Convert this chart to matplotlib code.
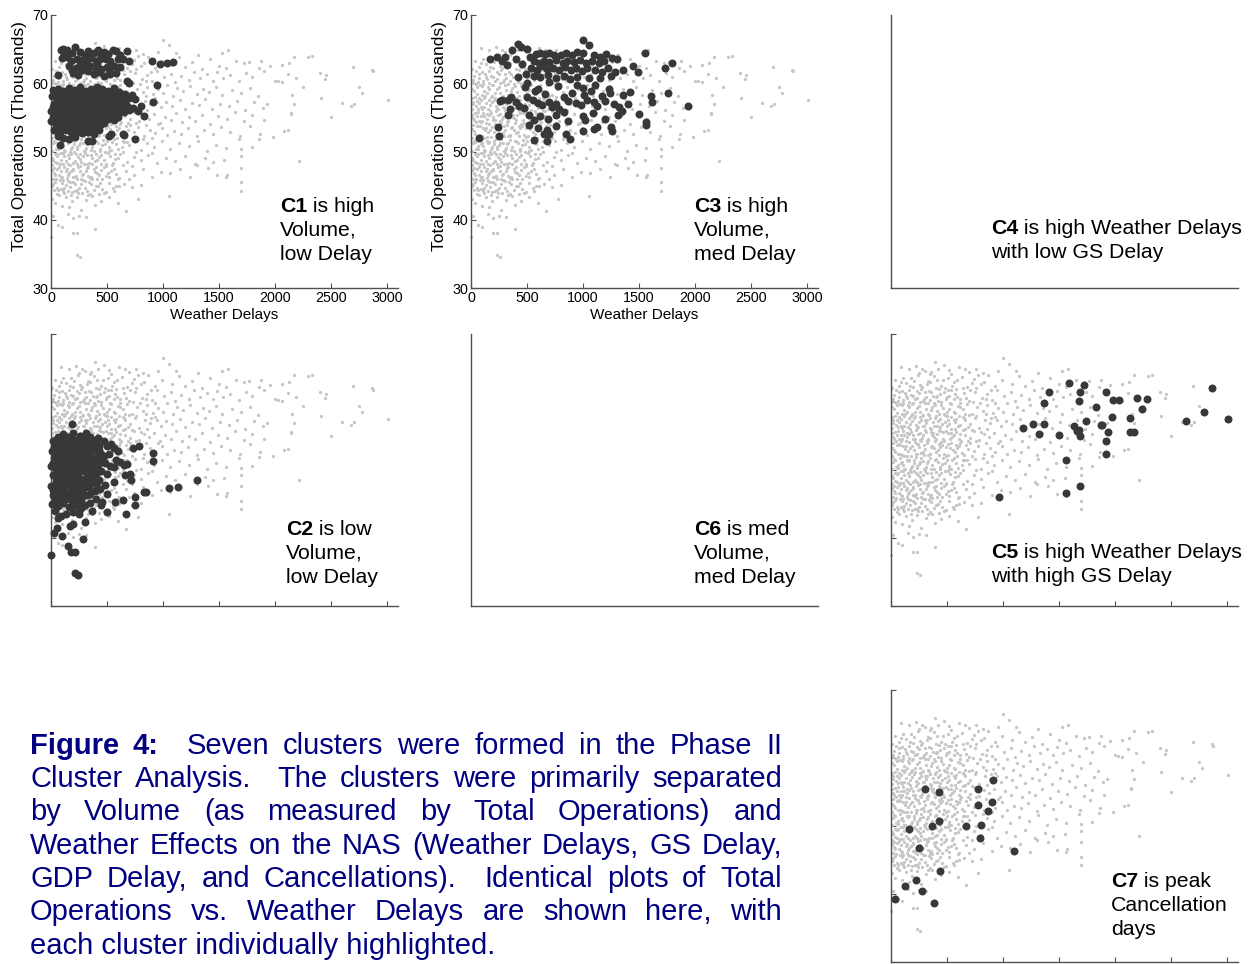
import re
import numpy as np
import matplotlib.pyplot as plt

plt.rcParams['font.family'] = ['Liberation Sans', 'DejaVu Sans']

# ---- data: (weather delays, total operations in thousands) ----
bg_top = [(90, 65.1), (160, 64.8), (220, 65.3), (300, 64.6), (390, 65.9), (420, 64.9), (470, 65.5),
          (520, 64.7), (610, 65.2), (700, 64.4), (760, 64.9), (820, 64.3), (960, 64.6), (1000, 66.4),
          (1050, 65.6), (1120, 64.5), (1310, 64.2), (1580, 64.9), (1530, 64.5), (250, 64.2), (350, 64.1),
          (70, 62.4), (110, 63.5), (200, 62.2), (240, 63.9), (280, 64.9), (320, 62.7), (360, 64.4),
          (410, 63.3), (480, 62.1), (540, 64.1), (590, 63.2), (660, 64.8), (720, 62.8), (780, 64.0)]
bg_62 = [(40, 63.2), (130, 62.8), (180, 63.6), (260, 62.5), (330, 63.1), (380, 63.8), (450, 62.4),
         (510, 63.5), (560, 62.9), (630, 63.7), (680, 62.2), (740, 63.4), (800, 62.6), (870, 63.9),
         (930, 62.3), (990, 63.3), (1080, 62.7), (1140, 63.8), (1200, 62.4), (1260, 63.1), (1350, 62.1),
         (1420, 63.5), (1500, 62.6), (1560, 62.2), (1650, 63.2), (1720, 62.9), (1770, 63.1), (1880, 63.3),
         (1960, 62.5), (2060, 62.7), (2130, 62.9), (2170, 63.9), (2300, 63.8), (2330, 64.0), (2700, 62.4),
         (2870, 62.0), (2880, 61.8), (1860, 62.2)]
bg_60 = [(20, 60.5), (70, 61.4), (110, 60.3), (160, 61.8), (200, 60.9), (250, 61.3), (290, 60.2),
         (340, 61.6), (400, 60.7), (440, 61.2), (490, 60.4), (540, 61.7), (590, 60.8), (650, 61.3),
         (700, 60.1), (750, 61.5), (810, 60.6), (860, 61.2), (900, 60.3), (950, 61.8), (1010, 60.9),
         (1070, 61.4), (1110, 60.2), (1160, 61.1), (1230, 60.5), (1280, 61.7), (1330, 60.8), (1390, 61.3),
         (1450, 60.4), (1480, 61.6), (1540, 60.7), (1600, 61.2), (1680, 60.3), (1740, 61.5), (1800, 60.9),
         (1900, 61.8), (2000, 60.4), (2030, 60.3), (2060, 60.2), (2120, 61.3), (2190, 60.7), (2400, 61.5),
         (2450, 60.6), (2460, 61.2), (2250, 59.4),
         (30, 61.0), (60, 60.2), (95, 61.6), (140, 60.6), (175, 61.1), (215, 60.4), (265, 61.9),
         (310, 60.8), (360, 61.4), (420, 60.2), (470, 61.5), (520, 60.9), (570, 61.2), (620, 60.5)]
bg_58 = [(10, 59.2), (50, 58.4), (80, 59.7), (120, 58.8), (150, 59.5), (190, 58.2), (230, 59.1),
         (260, 58.6), (300, 59.8), (330, 58.3), (370, 59.3), (410, 58.7), (450, 59.6), (480, 58.1),
         (520, 59.0), (560, 58.5), (600, 59.4), (640, 58.9), (680, 59.7), (720, 58.3), (770, 59.2),
         (820, 58.7), (860, 59.5), (910, 58.4), (960, 59.1), (1000, 58.6), (1040, 59.8), (1090, 58.2),
         (1130, 59.3), (1180, 58.8), (1240, 59.6), (1300, 58.4), (1360, 59.1), (1410, 58.7), (1470, 59.4),
         (1530, 58.3), (1620, 59.0), (1700, 58.5), (1780, 59.3), (1850, 58.1), (2150, 58.3), (2410, 57.9),
         (2780, 58.5), (2750, 59.4), (3010, 57.5),
         (25, 58.9), (55, 59.5), (95, 58.3), (110, 59.9), (140, 58.6), (165, 59.2), (200, 59.8),
         (215, 58.5), (250, 59.4), (285, 58.1), (315, 59.0), (355, 58.8), (390, 59.6), (430, 58.2),
         (465, 59.1), (500, 58.6), (540, 59.7), (575, 58.4), (620, 59.2), (660, 58.3)]
bg_56 = [(15, 57.3), (45, 56.6), (75, 57.8), (100, 56.2), (135, 57.1), (170, 56.8), (205, 57.6),
         (240, 56.3), (270, 57.4), (310, 56.9), (345, 57.7), (380, 56.4), (420, 57.2), (460, 56.7),
         (500, 57.9), (540, 56.1), (580, 57.5), (620, 56.6), (660, 57.3), (710, 56.8), (750, 57.6),
         (790, 56.2), (840, 57.4), (880, 56.9), (930, 57.8), (980, 56.5), (1030, 57.2), (1080, 56.7),
         (1150, 57.5), (1200, 56.3), (1260, 57.1), (1320, 56.8), (1380, 57.7), (1440, 56.2), (1510, 57.0),
         (1590, 56.6), (1660, 57.4), (1730, 56.1), (1810, 57.2), (1890, 56.4), (1930, 56.9), (2170, 56.9),
         (2140, 55.5), (2600, 57.1), (2680, 56.6), (2710, 57.0),
         (20, 56.9), (55, 57.4), (85, 56.5), (120, 57.9), (150, 56.3), (185, 57.2), (220, 56.6),
         (255, 57.8), (285, 56.5), (325, 57.3), (360, 56.1), (395, 57.6), (440, 56.3), (480, 57.0),
         (520, 56.8), (560, 57.3), (600, 56.4), (640, 57.8), (690, 56.3)]
bg_54 = [(5, 55.4), (30, 54.6), (60, 55.8), (90, 54.3), (115, 55.2), (145, 54.8), (180, 55.6),
         (210, 54.1), (245, 55.3), (275, 54.7), (305, 55.9), (335, 54.4), (365, 55.1), (400, 54.6),
         (435, 55.7), (470, 54.2), (505, 55.4), (545, 54.9), (585, 55.6), (625, 54.3), (665, 55.2),
         (705, 54.7), (745, 55.8), (785, 54.4), (830, 55.3), (875, 54.8), (920, 55.5), (970, 54.2),
         (1020, 55.1), (1070, 54.6), (1120, 55.7), (1170, 54.3), (1230, 55.0), (1290, 54.5), (1350, 55.4),
         (1420, 54.1), (1490, 55.2), (1570, 54.7), (1640, 55.8), (1720, 54.4), (1800, 55.3), (1900, 54.6),
         (2140, 55.6), (2500, 55.0), (2080, 53.0),
         (15, 54.9), (50, 55.2), (75, 54.5), (105, 55.7), (130, 54.2), (165, 55.3), (195, 54.6),
         (225, 55.9), (260, 54.4), (290, 55.1), (320, 54.3), (355, 55.6), (385, 54.9), (415, 55.3),
         (450, 54.1), (490, 55.8), (525, 54.5), (565, 55.1), (605, 54.6), (645, 55.9), (685, 54.2)]
bg_52 = [(10, 53.3), (40, 52.6), (70, 53.8), (95, 52.2), (125, 53.1), (155, 52.8), (190, 53.6),
         (220, 52.3), (250, 53.4), (285, 52.7), (320, 53.9), (350, 52.4), (385, 53.2), (420, 52.9),
         (455, 53.7), (490, 52.1), (530, 53.3), (570, 52.6), (610, 53.5), (650, 52.2), (690, 53.1),
         (740, 52.8), (780, 53.6), (830, 52.3), (880, 53.2), (930, 52.7), (990, 53.5), (1040, 52.4),
         (1100, 53.0), (1160, 52.6), (1220, 53.4), (1300, 52.2), (1370, 53.1), (1450, 52.5), (1520, 53.6),
         (1600, 52.9), (1690, 52.3), (1780, 53.8), (1870, 52.6), (2120, 53.1), (1980, 52.1),
         (25, 53.0), (55, 53.7), (80, 52.4), (110, 53.5), (140, 52.1), (170, 53.2), (205, 52.9),
         (235, 53.8), (270, 52.5), (300, 53.1), (335, 52.2), (370, 53.6), (405, 52.7), (440, 53.4),
         (475, 52.4), (510, 53.8), (550, 52.9), (590, 53.2), (630, 52.5), (670, 53.7)]
bg_50 = [(15, 51.2), (45, 50.4), (80, 51.7), (110, 50.8), (140, 51.5), (175, 50.3), (205, 51.1),
         (235, 50.6), (265, 51.8), (300, 50.2), (330, 51.3), (365, 50.7), (400, 51.6), (440, 50.4),
         (480, 51.1), (520, 50.6), (560, 51.8), (600, 50.3), (650, 51.4), (700, 50.9), (750, 51.6),
         (800, 50.2), (860, 51.2), (920, 50.7), (990, 51.5), (1060, 50.4), (1140, 51.3), (1230, 50.8),
         (1310, 51.6), (1390, 50.1), (1470, 51.0), (1560, 50.5), (1680, 51.8), (1800, 50.6), (1860, 51.9),
         (1700, 50.3),
         (30, 51.6), (60, 50.8), (95, 51.2), (125, 50.1), (160, 51.4), (190, 50.6), (220, 51.9),
         (250, 50.9), (285, 51.3), (315, 50.5), (345, 51.7), (385, 50.1), (420, 51.2), (460, 50.9),
         (500, 51.5), (540, 50.2), (580, 51.1), (630, 50.7), (675, 51.4)]
bg_48 = [(5, 49.1), (35, 48.4), (65, 49.6), (90, 48.8), (120, 49.3), (150, 48.2), (180, 49.7),
         (210, 48.6), (240, 49.2), (270, 48.5), (305, 49.8), (340, 48.3), (370, 49.0), (410, 48.7),
         (450, 49.5), (490, 48.1), (530, 49.4), (570, 48.9), (620, 49.6), (680, 48.4), (740, 49.2),
         (800, 48.7), (870, 49.5), (950, 48.3), (1030, 49.1), (1110, 48.6), (1200, 49.4), (1290, 48.2),
         (1380, 49.0), (1450, 48.5), (1550, 48.8), (1700, 49.3), (2220, 48.6),
         (20, 48.8), (50, 49.4), (80, 48.1), (105, 49.8), (135, 48.6), (165, 49.1), (195, 48.3),
         (225, 49.6), (255, 48.9), (290, 49.3), (320, 48.1), (355, 49.5), (390, 48.6), (430, 49.2),
         (470, 48.7), (510, 49.8), (550, 48.3), (600, 49.1)]
bg_46 = [(10, 47.3), (40, 46.6), (70, 47.8), (100, 46.2), (130, 47.1), (165, 46.8), (195, 47.5),
         (225, 46.4), (260, 47.2), (290, 46.7), (325, 47.6), (360, 46.3), (395, 47.0), (430, 46.5),
         (470, 47.7), (510, 46.9), (560, 47.4), (610, 46.1), (670, 47.2), (740, 46.6), (820, 47.5),
         (900, 46.3), (980, 47.0), (1060, 46.8), (1150, 47.4), (1240, 46.2), (1300, 48.0), (1400, 47.6),
         (1480, 46.5), (1560, 46.2), (1570, 46.6), (1700, 47.6),
         (25, 46.9), (55, 47.5), (85, 46.3), (115, 47.7), (150, 46.5), (180, 47.1), (210, 46.2),
         (245, 47.8), (275, 46.6), (310, 47.2), (345, 46.1), (380, 47.5), (415, 46.8), (450, 47.3),
         (490, 46.4), (535, 47.1), (585, 46.7)]
bg_44 = [(20, 45.3), (50, 44.6), (80, 45.8), (105, 44.2), (135, 45.1), (170, 44.8), (200, 45.5),
         (235, 44.3), (270, 45.2), (305, 44.7), (340, 45.6), (380, 44.4), (420, 45.0), (460, 44.5),
         (520, 45.4), (580, 44.9), (650, 45.3), (720, 44.8), (800, 45.1), (1050, 43.5), (1700, 44.2),
         (1700, 45.5), (430, 43.7), (370, 43.5),
         (5, 44.9), (35, 45.6), (65, 44.3), (95, 45.4), (120, 44.7), (155, 45.7), (185, 44.1),
         (215, 45.2), (250, 44.6), (285, 45.8), (320, 44.2), (355, 45.3), (400, 44.9), (440, 45.4),
         (490, 44.1), (550, 44.6), (610, 45.0)]
bg_low = [(10, 43.1), (40, 42.4), (70, 43.6), (100, 42.0), (130, 43.3), (160, 41.8), (190, 42.7),
          (230, 43.4), (270, 41.5), (310, 42.9), (350, 43.8), (390, 42.2), (450, 42.8), (520, 43.3),
          (600, 42.5), (670, 41.3), (780, 43.1), (20, 40.5), (60, 39.2), (150, 40.8), (200, 40.2),
          (250, 40.6), (310, 40.4), (0, 37.5), (100, 38.9), (200, 38.0), (230, 38.0), (390, 38.7),
          (230, 34.8), (260, 34.5)]
bg_core = [(12, 62.1), (48, 61.8), (88, 62.9), (125, 61.3), (168, 62.4), (205, 63.1), (232, 61.6),
           (275, 62.2), (305, 61.4), (345, 62.9), (372, 60.9), (398, 62.1), (425, 61.9), (462, 63.2),
           (505, 61.8), (548, 62.3), (585, 61.9), (640, 62.0), (705, 61.8), (760, 62.1), (830, 62.9),
           (890, 61.7),
           (18, 60.1), (42, 59.9), (72, 60.7), (102, 59.6), (130, 60.9), (158, 60.0), (188, 59.7),
           (228, 60.6), (262, 60.0), (298, 60.5), (328, 59.9), (352, 60.3), (382, 59.9), (415, 60.9),
           (448, 60.0), (498, 60.7), (530, 59.9), (560, 60.5), (612, 59.8), (668, 60.6), (735, 60.0),
           (795, 59.9), (850, 60.4), (925, 59.9),
           (8, 57.8), (38, 58.0), (68, 57.1), (92, 57.5), (128, 58.2), (158, 57.6), (182, 58.0),
           (212, 57.9), (248, 57.0), (278, 57.9), (302, 57.3), (338, 58.1), (372, 57.0), (405, 57.9),
           (435, 57.5), (472, 58.3), (505, 57.4), (532, 57.8), (570, 57.0), (610, 57.9), (655, 57.6),
           (700, 58.1), (760, 58.0), (850, 58.2), (890, 57.6), (950, 57.3),
           (10, 56.2), (35, 55.6), (62, 56.3), (88, 55.2), (112, 56.5), (140, 55.5), (172, 56.0),
           (198, 55.1), (230, 56.2), (262, 55.5), (295, 56.4), (315, 55.6), (348, 56.2), (378, 55.4),
           (408, 56.4), (432, 55.9), (462, 55.6), (498, 56.4), (532, 55.5), (572, 56.0), (615, 55.3),
           (660, 56.0), (720, 55.9), (800, 55.6), (860, 56.1),
           (18, 53.9), (45, 54.3), (78, 53.7), (102, 54.5), (132, 53.5), (158, 54.1), (186, 53.6),
           (212, 54.6), (242, 53.8), (268, 54.2), (298, 53.7), (328, 54.5), (358, 53.4), (392, 54.2),
           (425, 53.8), (462, 54.6), (495, 53.4), (538, 54.0), (578, 53.7), (620, 54.0), (710, 53.9),
           (760, 54.2), (850, 53.9), (960, 54.0),
           (8, 52.0), (32, 51.4), (62, 52.3), (88, 51.1), (118, 52.0), (148, 51.3), (178, 52.1),
           (202, 51.5), (232, 52.4), (262, 51.2), (292, 52.2), (322, 51.1), (352, 52.3), (392, 51.5),
           (428, 52.2), (468, 51.7), (505, 52.2), (545, 51.4), (590, 52.0), (640, 51.5), (720, 52.0),
           (820, 51.8), (900, 52.0),
           (12, 50.1), (38, 49.6), (66, 50.3), (92, 49.8), (118, 50.2), (148, 49.5), (172, 50.0),
           (202, 49.9), (232, 50.3), (262, 49.7), (292, 50.1), (325, 49.5), (358, 50.2), (398, 49.7),
           (438, 50.1), (478, 49.9), (520, 50.1), (575, 49.7), (640, 50.0), (760, 50.0), (900, 49.8),
           (8, 48.0), (28, 47.6), (58, 48.3), (85, 47.2), (110, 48.1), (140, 47.4), (168, 48.0),
           (198, 47.3), (230, 48.2), (262, 47.9), (296, 48.1), (332, 47.8), (365, 48.2), (405, 47.7),
           (445, 48.1), (495, 47.9), (545, 48.0), (640, 48.0), (720, 47.9),
           (15, 46.0), (45, 45.9), (75, 46.6), (108, 45.8), (140, 46.1), (172, 45.6), (200, 46.3),
           (232, 45.9), (268, 46.0), (300, 45.7), (332, 46.4), (370, 45.9), (408, 46.0), (455, 46.0),
           (520, 46.2), (600, 45.9), (700, 46.0),
           (28, 44.3), (58, 43.8), (88, 44.5), (118, 43.9), (148, 44.2), (178, 43.6), (210, 44.2),
           (242, 43.9), (278, 43.9), (330, 43.6), (470, 43.9), (560, 44.2)]

c1 = [(85, 64.8), (110, 65.0), (140, 64.9), (210, 65.3), (260, 64.6), (330, 64.7), (380, 64.5),
      (420, 64.8), (470, 64.6), (550, 64.9), (580, 64.7), (680, 64.7), (140, 63.9), (100, 63.7),
      (180, 63.3), (230, 63.6), (280, 63.4), (310, 63.2), (350, 63.7), (400, 63.3), (440, 63.5),
      (490, 63.6), (530, 63.2), (600, 63.5), (640, 63.6), (700, 63.3), (160, 62.6), (220, 62.3),
      (260, 62.7), (300, 62.2), (350, 62.5), (410, 62.8), (450, 62.1), (500, 62.4), (560, 62.6),
      (620, 62.4), (200, 61.5), (240, 61.2), (330, 61.8), (380, 61.3), (430, 61.6), (470, 61.0),
      (530, 61.4), (65, 61.2), (680, 60.3), (700, 60.1), (900, 63.2), (970, 62.8), (1040, 62.9),
      (1090, 63.1), (950, 59.7),
      (120, 64.2), (190, 64.5), (300, 64.1), (360, 64.2), (450, 64.1), (510, 64.3), (620, 64.1),
      (190, 62.0), (280, 61.9), (400, 61.9), (520, 62.0), (580, 61.5),
      (20, 59.0), (60, 59.2), (110, 58.9), (160, 59.3), (210, 59.0), (260, 59.4), (310, 58.9),
      (360, 59.2), (410, 59.5), (460, 59.1), (510, 58.8), (560, 59.3), (610, 58.7),
      (10, 58.1), (50, 57.9), (90, 58.3), (140, 57.8), (190, 58.2), (240, 57.9), (290, 58.4),
      (340, 57.8), (390, 58.1), (440, 58.3), (490, 57.9), (540, 58.2), (590, 57.8), (640, 58.0),
      (700, 57.9), (750, 57.7),
      (35, 58.6), (85, 58.5), (135, 58.7), (185, 58.5), (235, 58.6), (285, 58.8), (335, 58.5),
      (385, 58.7), (435, 58.6), (485, 58.4), (535, 58.7), (585, 58.5), (660, 58.4), (720, 58.3),
      (25, 57.0), (75, 56.8), (120, 57.2), (165, 56.9), (215, 57.1), (265, 56.7), (315, 57.2),
      (365, 56.9), (415, 57.1), (465, 56.8), (515, 57.2), (565, 56.9), (620, 57.0), (680, 56.6),
      (730, 56.4), (800, 56.7), (780, 56.0),
      (50, 57.4), (100, 57.6), (150, 57.4), (200, 57.6), (250, 57.3), (300, 57.5), (350, 57.4),
      (400, 57.6), (450, 57.4), (500, 57.5), (550, 57.6), (600, 57.4), (660, 57.3),
      (0, 56.0), (45, 55.9), (95, 56.1), (145, 55.8), (195, 56.2), (245, 55.9), (295, 56.1),
      (345, 55.8), (395, 56.0), (445, 55.7), (495, 56.2), (545, 55.9), (600, 55.7), (650, 55.8),
      (20, 56.5), (70, 56.4), (120, 56.6), (170, 56.4), (220, 56.5), (270, 56.3), (320, 56.6),
      (370, 56.4), (420, 56.5), (470, 56.3), (520, 56.6), (575, 56.3), (625, 56.4), (700, 56.1),
      (20, 55.0), (70, 54.9), (120, 55.2), (170, 54.8), (220, 55.1), (270, 54.9), (320, 55.0),
      (370, 54.7), (420, 55.2), (470, 55.0), (510, 54.8), (560, 54.6),
      (45, 55.4), (95, 55.5), (145, 55.3), (195, 55.6), (245, 55.4), (295, 55.5), (345, 55.3),
      (395, 55.5), (445, 55.3), (490, 55.5), (540, 55.2), (600, 55.0),
      (0, 54.4), (45, 54.0), (95, 53.9), (145, 54.2), (195, 53.8), (245, 54.1), (295, 53.9),
      (345, 54.2), (395, 53.7), (440, 53.9), (830, 55.2), (910, 57.2),
      (20, 54.5), (70, 54.4), (120, 54.6), (170, 54.5), (220, 54.4), (270, 54.6), (320, 54.5),
      (370, 54.3), (420, 54.5), (470, 54.2),
      (30, 53.1), (80, 52.8), (130, 53.2), (180, 52.9), (230, 53.0), (280, 52.7), (330, 52.9),
      (380, 52.6), (430, 53.1),
      (55, 53.5), (105, 53.6), (155, 53.4), (205, 53.5), (255, 53.3), (305, 53.6), (355, 53.4),
      (405, 53.3),
      (60, 52.2), (110, 52.0), (160, 51.8), (210, 52.1), (330, 51.6), (370, 51.6), (520, 52.3),
      (540, 52.6), (640, 52.6), (650, 52.4), (750, 51.9), (80, 51.0)]

c3 = [(170, 63.6), (230, 63.9), (280, 63.2), (300, 63.8), (320, 62.7), (370, 64.8), (420, 65.8),
      (450, 65.3), (500, 65.0), (400, 63.5), (460, 62.8), (530, 63.9), (580, 64.3), (620, 64.4),
      (660, 64.3), (700, 64.4), (740, 64.1), (800, 64.2), (850, 64.5), (900, 64.2), (950, 64.6),
      (1000, 66.4), (1050, 65.6), (1000, 64.5), (1100, 64.2), (1150, 63.8), (1210, 64.3), (1260, 63.7),
      (560, 63.2), (610, 63.0), (650, 63.3), (700, 63.1), (760, 63.4), (820, 63.0), (860, 63.3),
      (920, 63.1), (970, 63.4), (1030, 63.0), (1080, 63.2), (1140, 62.9), (1190, 63.2), (1300, 63.5),
      (540, 62.2), (590, 62.0), (640, 62.5), (680, 62.1), (730, 62.3), (790, 61.9), (840, 62.4),
      (890, 62.0), (940, 62.3), (990, 61.8), (1040, 62.2), (1110, 62.0), (1170, 61.7), (1220, 62.2),
      (1290, 61.6), (1360, 61.9), (1450, 62.6), (1490, 61.7), (1550, 64.5), (1730, 62.3), (1800, 63.0),
      (490, 61.3), (560, 61.0), (620, 60.9), (690, 61.2), (760, 60.7), (830, 61.1), (880, 60.6),
      (950, 60.9), (1050, 60.7), (1150, 60.8), (1250, 61.1), (420, 60.9), (500, 60.1), (700, 60.2),
      (950, 59.8),
      (260, 57.4), (280, 57.6), (330, 57.5), (360, 58.0), (400, 57.2), (430, 56.6), (470, 56.4),
      (500, 58.0), (550, 57.5), (570, 58.8), (600, 57.1), (630, 56.8), (660, 58.4), (700, 57.3),
      (720, 56.5), (760, 57.0), (790, 56.2), (830, 58.0), (870, 57.4), (900, 58.6), (940, 57.1),
      (980, 56.8), (1010, 58.3), (1040, 57.6), (1070, 58.8), (1100, 57.2), (1130, 56.7), (1170, 58.1),
      (1200, 57.4), (1240, 58.6), (1280, 57.0), (1320, 56.5), (1360, 58.3), (1420, 58.7), (1400, 57.0),
      (1350, 56.0), (1500, 55.5), (1610, 58.1), (1620, 57.2), (1760, 58.5), (1940, 56.6), (330, 55.3),
      (350, 56.3), (520, 55.3), (560, 54.6), (620, 55.2), (690, 54.8), (760, 55.4), (830, 55.8),
      (870, 54.5), (1000, 55.2), (1020, 54.6), (1090, 55.6), (1200, 54.8), (1310, 55.3), (1560, 54.3),
      (1560, 53.9), (520, 53.9), (600, 53.4), (650, 52.6), (680, 53.2), (760, 53.7), (1000, 53.0),
      (1100, 53.3), (1130, 53.6), (1260, 53.0), (240, 53.6), (250, 52.2), (70, 52.0), (560, 51.7),
      (680, 51.6), (700, 52.6), (850, 52.6), (880, 51.8), (1250, 53.6), (480, 59.5), (600, 59.2),
      (780, 59.6), (1000, 59.3), (1110, 59.7), (1230, 59.1)]

c2 = [(0, 37.5), (215, 34.8), (245, 34.6), (179, 37.9), (215, 37.9), (149, 38.8), (290, 39.9),
      (30, 40.7), (50, 41.4), (100, 40.3), (170, 41.7), (200, 42.0), (300, 42.4), (60, 42.9),
      (130, 43.6), (250, 43.5), (370, 44.0), (450, 44.8), (670, 43.6), (751, 44.9), (751, 46.1),
      (831, 46.8), (846, 46.8), (706, 49.4), (715, 48.6), (647, 45.6), (572, 45.3), (498, 43.8),
      (1055, 47.4), (1132, 47.5), (1305, 48.5), (909, 52.5), (909, 51.3), (790, 53.6), (736, 53.2),
      (188, 56.8), (349, 54.8), (680, 50.9),
      (60, 54.8), (110, 55.3), (150, 54.9), (200, 55.5), (260, 55.0), (310, 55.4), (360, 54.6),
      (420, 54.7), (470, 54.3), (540, 53.8),
      (20, 54.2), (70, 53.8), (120, 54.1), (170, 53.7), (220, 54.3), (270, 53.9), (320, 54.2),
      (380, 53.8), (430, 53.5), (500, 53.6), (560, 53.2), (600, 52.8),
      (45, 54.4), (95, 54.6), (145, 54.3), (195, 54.6), (245, 54.4), (295, 54.6), (345, 54.2),
      (400, 54.3),
      (10, 52.8), (50, 52.6), (95, 53.0), (140, 52.7), (190, 53.1), (240, 52.8), (290, 52.9),
      (340, 52.5), (400, 52.9), (450, 52.4), (520, 52.3), (580, 51.4),
      (30, 53.4), (80, 53.3), (130, 53.5), (180, 53.3), (230, 53.5), (280, 53.3), (330, 53.4),
      (380, 53.2), (430, 52.9),
      (30, 51.8), (80, 51.5), (130, 51.9), (180, 51.6), (230, 51.8), (280, 51.4), (330, 51.7),
      (380, 51.2), (430, 51.5), (480, 51.0), (530, 50.6), (620, 51.2),
      (55, 52.2), (105, 52.4), (155, 52.1), (205, 52.3), (255, 52.1), (305, 52.3), (355, 52.0),
      (410, 51.9), (470, 52.1),
      (0, 50.6), (45, 50.3), (95, 50.7), (145, 50.2), (195, 50.6), (245, 50.1), (295, 50.5),
      (345, 50.0), (395, 50.3), (450, 49.8), (500, 49.4), (560, 50.4), (650, 50.8),
      (20, 51.1), (70, 50.9), (120, 51.2), (170, 50.9), (220, 51.1), (270, 50.8), (320, 51.0),
      (370, 50.7), (420, 50.8),
      (20, 49.2), (70, 48.9), (120, 49.3), (170, 48.8), (220, 49.1), (270, 48.7), (320, 49.0),
      (370, 48.6), (430, 48.5), (480, 47.8), (560, 48.3), (660, 49.3),
      (45, 49.8), (95, 49.9), (145, 49.7), (195, 49.9), (245, 49.6), (295, 49.8), (345, 49.5),
      (400, 49.4),
      (0, 47.6), (40, 47.8), (90, 47.4), (140, 47.9), (190, 47.3), (240, 47.6), (290, 47.2),
      (340, 47.5), (390, 46.9), (440, 47.2), (500, 46.4),
      (45, 48.4), (95, 48.2), (145, 48.4), (195, 48.1), (245, 48.3), (295, 48.0), (345, 48.1),
      (400, 48.0),
      (20, 46.3), (70, 46.1), (120, 46.5), (170, 45.9), (220, 46.2), (270, 45.8), (320, 46.3),
      (400, 45.8), (460, 45.3),
      (20, 47.0), (65, 46.8), (115, 47.0), (165, 46.7), (215, 46.9), (265, 46.6), (350, 46.5),
      (10, 45.0), (60, 44.7), (110, 45.2), (160, 44.5), (210, 44.9), (260, 44.3), (300, 44.8),
      (350, 45.2), (40, 44.0), (90, 43.3), (200, 43.8), (280, 44.5),
      (40, 45.5), (90, 45.6), (135, 45.8), (185, 45.4), (240, 45.3)]

c5 = [(968, 46.0), (1183, 56.2), (1266, 56.7), (1326, 55.3), (1365, 56.7), (1368, 59.8), (1415, 61.5),
      (1499, 55.1), (1561, 51.4), (1561, 46.6), (1591, 62.8), (1639, 56.4), (1663, 55.8), (1678, 60.1),
      (1681, 55.9), (1690, 55.0), (1690, 61.4), (1692, 47.6), (1722, 62.5), (1740, 57.2), (1833, 59.3),
      (1874, 56.6), (1883, 56.6), (1922, 61.5), (1922, 54.3), (1922, 52.4), (1940, 55.6), (1973, 57.8),
      (1987, 60.3), (2041, 60.3), (2134, 57.6), (2134, 55.6), (2175, 55.6), (2199, 60.6), (2241, 58.9),
      (2291, 60.4), (2634, 57.2), (2798, 58.6), (2870, 62.0), (3010, 57.5)]

c7 = [(33, 39.2), (125, 41.2), (164, 49.5), (223, 42.1), (253, 46.8), (274, 40.5), (301, 55.5),
      (367, 50.0), (387, 38.7), (429, 55.0), (429, 50.8), (435, 43.4), (667, 50.0), (775, 55.5),
      (775, 53.1), (796, 48.2), (802, 50.2), (864, 52.2), (906, 53.6), (909, 56.7), (1100, 46.3)]

background = np.array(bg_top + bg_62 + bg_60 + bg_58 + bg_56 + bg_54 + bg_52 + bg_50 +
                      bg_48 + bg_46 + bg_44 + bg_low + bg_core)

caption_lines = [
    "Figure 4:  Seven clusters were formed in the Phase II",
    "Cluster Analysis.  The clusters were primarily separated",
    "by Volume (as measured by Total Operations) and",
    "Weather Effects on the NAS (Weather Delays, GS Delay,",
    "GDP Delay, and Cancellations).  Identical plots of Total",
    "Operations vs. Weather Delays are shown here, with",
    "each cluster individually highlighted.",
]

W, H = 1254, 964
fig = plt.figure(figsize=(W / 100, H / 100), dpi=100)

GREY = '#c6c6c6'
DARK = '#383838'
SPINE = '#505050'


def make_axes(left, top, width, height):
    ax = fig.add_axes([left / W, 1 - (top + height) / H, width / W, height / H])
    ax.set_xlim(0, 3100)
    ax.set_ylim(30, 70)
    for s in ['top', 'right']:
        ax.spines[s].set_visible(False)
    for s in ['left', 'bottom']:
        ax.spines[s].set_color(SPINE)
        ax.spines[s].set_linewidth(1.0)
    ax.set_xticks(np.arange(0, 3001, 500))
    ax.set_yticks(np.arange(30, 71, 10))
    ax.tick_params(direction='in', length=3.5, width=0.8, color=SPINE,
                   labelsize=10.3, pad=2)
    return ax


def draw_points(ax, highlight):
    ax.scatter(background[:, 0], background[:, 1], s=5.5, c=GREY, linewidths=0,
               clip_on=False, zorder=2)
    if highlight is not None:
        pts = np.array(highlight)
        ax.scatter(pts[:, 0], pts[:, 1], s=33, c=DARK, linewidths=0,
                   clip_on=False, zorder=3)


def cluster_label(ax, x, y, head, first, rest):
    fs = 15.3
    step = 24.0 / ax.bbox.height  # line step in axes fraction (24 px)
    t = ax.text(x, y, head, transform=ax.transAxes, fontsize=fs, fontweight='bold',
                ha='left', va='top')
    ax.annotate(first, xy=(1, 1), xycoords=t, fontsize=fs, ha='left', va='top')
    ax.text(x, y - step, rest, transform=ax.transAxes, fontsize=fs, ha='left',
            va='top', linespacing=1.36)


def axis_labels(ax):
    ax.set_ylabel('Total Operations (Thousands)', fontsize=12.5)
    ax.yaxis.set_label_coords(-0.068, 0.555)
    ax.set_xlabel('Weather Delays', fontsize=11, labelpad=2)


cols = [51, 471, 891]
pw = 347

# C1
ax1 = make_axes(cols[0], 15, pw, 273)
draw_points(ax1, c1)
axis_labels(ax1)
cluster_label(ax1, 0.66, 0.334, 'C1', ' is high', 'Volume,\nlow Delay')

# C3
ax3 = make_axes(cols[1], 15, pw, 273)
draw_points(ax3, c3)
axis_labels(ax3)
cluster_label(ax3, 0.643, 0.334, 'C3', ' is high', 'Volume,\nmed Delay')

# C4
ax4 = make_axes(cols[2], 15, pw, 273)
ax4.set_xticks([])
ax4.set_yticks([])
cluster_label(ax4, 0.288, 0.252, 'C4', ' is high Weather Delays', 'with low GS Delay')

# C2
ax2 = make_axes(cols[0], 334, pw, 272)
draw_points(ax2, c2)
ax2.tick_params(labelbottom=False, labelleft=False)
cluster_label(ax2, 0.677, 0.318, 'C2', ' is low', 'Volume,\nlow Delay')

# C6
ax6 = make_axes(cols[1], 334, pw, 272)
ax6.set_xticks([])
ax6.set_yticks([])
cluster_label(ax6, 0.643, 0.318, 'C6', ' is med', 'Volume,\nmed Delay')

# C5
ax5 = make_axes(cols[2], 334, pw, 272)
draw_points(ax5, c5)
ax5.tick_params(labelbottom=False, labelleft=False)
cluster_label(ax5, 0.288, 0.233, 'C5', ' is high Weather Delays', 'with high GS Delay')

# C7
ax7 = make_axes(cols[2], 690, pw, 272)
draw_points(ax7, c7)
ax7.tick_params(labelbottom=False, labelleft=False)
cluster_label(ax7, 0.634, 0.332, 'C7', ' is peak', 'Cancellation\ndays')

# caption, fully justified between x=30 and x=782 px
renderer = fig.canvas.get_renderer()
x_left, x_right = 30, 782
baseline0, step = 753.5, 33.4
navy = '#000080'
for i, line in enumerate(caption_lines):
    yb = 1 - (baseline0 + i * step) / H
    if i == len(caption_lines) - 1:
        fig.text(x_left / W, yb, line, fontsize=21, color=navy, ha='left', va='baseline')
        continue
    parts = re.split(r'( +)', line)
    words = parts[0::2]
    gaps = [len(s) for s in parts[1::2]]
    texts = []
    for j, w in enumerate(words):
        bold = (i == 0 and j < 2)
        t = fig.text(0, yb, w, fontsize=21, color=navy, ha='left', va='baseline',
                     fontweight='bold' if bold else 'normal')
        texts.append(t)
    widths = [t.get_window_extent(renderer).width for t in texts]
    space = (x_right - x_left - sum(widths)) / sum(gaps)
    x = x_left
    for j, t in enumerate(texts):
        t.set_x(x / W)
        x += widths[j]
        if j < len(gaps):
            x += gaps[j] * space

fig.savefig('out.png', dpi=100)
